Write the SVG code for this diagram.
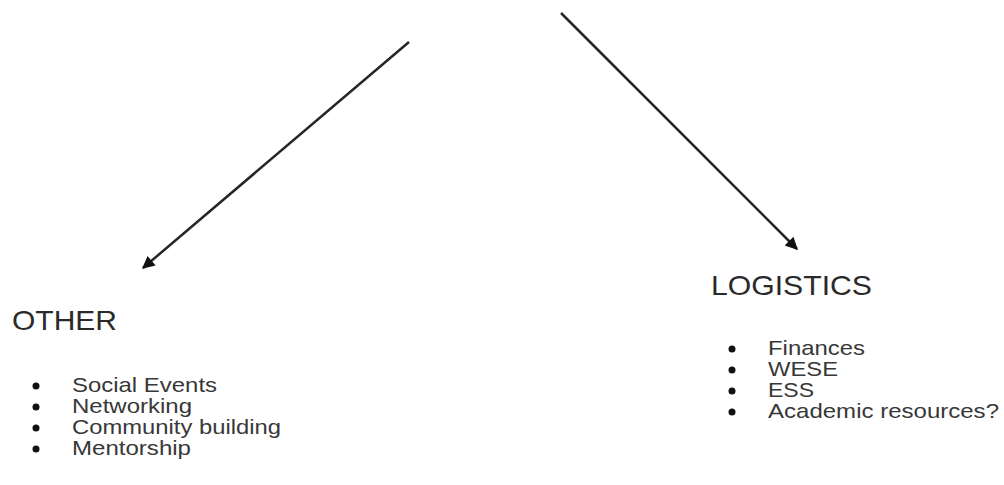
<svg xmlns="http://www.w3.org/2000/svg" width="1004" height="485" viewBox="0 0 1004 485">
  <style>
    .head { font-family: "Liberation Sans", Arial, sans-serif; font-size: 28px; fill: #2a2a2a; }
    .item { font-family: "Liberation Sans", Arial, sans-serif; font-size: 21px; fill: #383838; }
    .bullet { fill: #111; }
    .conn { stroke: #262626; stroke-width: 2.5; fill: none; }
  </style>
  <defs>
    <marker id="arrow" viewBox="0 0 10 10" refX="9" refY="5" markerWidth="6" markerHeight="5" markerUnits="strokeWidth" orient="auto">
      <path d="M0,0 L10,5 L0,10 Z" fill="#111"/>
    </marker>
  </defs>
  <rect width="1004" height="485" fill="#fff"/>
  <g id="connectors">
    <line class="conn" x1="409" y1="42" x2="143" y2="268" marker-end="url(#arrow)"/>
    <line class="conn" x1="561" y1="13" x2="797" y2="249" marker-end="url(#arrow)"/>
  </g>
  <g id="other">
    <text class="head" x="12" y="330" textLength="105" lengthAdjust="spacingAndGlyphs">OTHER</text>
    <circle class="bullet" cx="36" cy="386" r="3.5"/>
    <circle class="bullet" cx="36" cy="407" r="3.5"/>
    <circle class="bullet" cx="36" cy="428" r="3.5"/>
    <circle class="bullet" cx="36" cy="449" r="3.5"/>
    <text class="item" x="72" y="392" textLength="145" lengthAdjust="spacingAndGlyphs">Social Events</text>
    <text class="item" x="72" y="413" textLength="120" lengthAdjust="spacingAndGlyphs">Networking</text>
    <text class="item" x="72" y="434" textLength="209" lengthAdjust="spacingAndGlyphs">Community building</text>
    <text class="item" x="72" y="455" textLength="119" lengthAdjust="spacingAndGlyphs">Mentorship</text>
  </g>
  <g id="logistics">
    <text class="head" x="711" y="295" textLength="161" lengthAdjust="spacingAndGlyphs">LOGISTICS</text>
    <circle class="bullet" cx="732" cy="349" r="3.5"/>
    <circle class="bullet" cx="732" cy="370" r="3.5"/>
    <circle class="bullet" cx="732" cy="391" r="3.5"/>
    <circle class="bullet" cx="732" cy="412" r="3.5"/>
    <text class="item" x="768" y="355" textLength="97" lengthAdjust="spacingAndGlyphs">Finances</text>
    <text class="item" x="768" y="376" textLength="70" lengthAdjust="spacingAndGlyphs">WESE</text>
    <text class="item" x="768" y="397" textLength="46" lengthAdjust="spacingAndGlyphs">ESS</text>
    <text class="item" x="768" y="418" textLength="231" lengthAdjust="spacingAndGlyphs">Academic resources?</text>
  </g>
</svg>
